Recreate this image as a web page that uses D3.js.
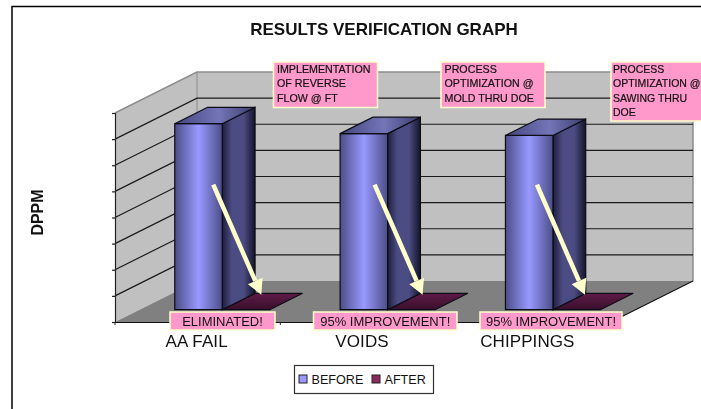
<!DOCTYPE html>
<html>
<head>
<meta charset="utf-8">
<script src="https://cdn.jsdelivr.net/npm/d3@7"></script>
<style>
    html, body { margin: 0; padding: 0; background: #fff; }
    svg { display: block; filter: blur(0.35px); }
    text { font-family: "Liberation Sans", Arial, sans-serif; fill: #111; }
</style>
</head>
<body>
<div class="container"></div>
<script>
const categories = ['AA FAIL', 'VOIDS', 'CHIPPINGS'];
const seriesNames = ['BEFORE', 'AFTER'];
const beforeValues = [7120, 6740, 6670];
const afterValues = [0, 0, 0];
const topNotes = [
    ['IMPLEMENTATION', 'OF REVERSE', 'FLOW @ FT'],
    ['PROCESS', 'OPTIMIZATION @', 'MOLD THRU DOE'],
    ['PROCESS', 'OPTIMIZATION @', 'SAWING THRU', 'DOE']
];
const bottomNotes = ['ELIMINATED!', '95% IMPROVEMENT!', '95% IMPROVEMENT!'];

const width = 701;
const height = 409;

// oblique box of the chart, front plane plus depth offset
const plotLeft = 115, plotRight = 611, plotBottom = 322, plotTop = 113;
const depthX = 82, depthY = -41;
const barNear = 0.3, barFar = 0.7;
const barWidth = 47.5;

const svg = d3.select('.container').append('svg').attr('width', width).attr('height', height);
const defs = svg.append('defs');

function gradient(id, stops, vertical)
{
    const g = defs.append('linearGradient').attr('id', id)
        .attr('x1', 0).attr('y1', 0).attr('x2', vertical ? 0 : 1).attr('y2', vertical ? 1 : 0);
    stops.forEach(s => g.append('stop').attr('offset', s[0]).attr('stop-color', s[1]));
}

gradient('beforeFront', [[0, '#4c4e88'], [0.5, '#9999ff'], [1, '#4c4e88']]);
gradient('beforeSide', [[0, '#1e1e3c'], [0.3, '#4c4c84'], [0.65, '#4c4c84'], [1, '#14142a']]);
gradient('beforeTop', [[0, '#45467e'], [0.55, '#7375b8'], [1, '#3c3d6c']]);
gradient('afterTop', [[0, '#5f1c48'], [1, '#3a0e2c']], true);

const x0 = d3.scaleBand().domain(categories).range([plotLeft, plotRight]);
const x1 = d3.scaleBand().domain(seriesNames)
    .range([x0.bandwidth() / 2 - barWidth, x0.bandwidth() / 2 + barWidth]);
const y = d3.scaleLinear().domain([0, 8000]).range([plotBottom, plotTop]);

const line = d3.line();

// x and y on the front plane, d is 0 at the front and 1 at the back wall
const project = (px, py, d) => [px + d * depthX, py + d * depthY];

// walls and floor
const wallColor = '#c0c0c0';
const wallEdge = '#8c8c8c';

svg.append('path')
    .attr('d', line([project(plotLeft, y(8000), 0), project(plotLeft, y(8000), 1), project(plotLeft, y(0), 1), project(plotLeft, y(0), 0)]) + 'Z')
    .attr('fill', wallColor);
svg.append('path')
    .attr('d', line([project(plotLeft, y(8000), 1), project(plotRight, y(8000), 1), project(plotRight, y(0), 1), project(plotLeft, y(0), 1)]) + 'Z')
    .attr('fill', wallColor);
svg.append('path')
    .attr('d', line([project(plotLeft, y(0), 0), project(plotLeft, y(0), 1), project(plotRight, y(0), 1), project(plotRight, y(0), 0)]))
    .attr('fill', '#808080');

// outer wall edges are grey
svg.append('path')
    .attr('d', line([project(plotLeft, y(8000), 0), project(plotLeft, y(8000), 1), project(plotRight, y(8000), 1), project(plotRight, y(0), 1)]))
    .attr('fill', 'none').attr('stroke', wallEdge).attr('stroke-width', 1.5);
svg.append('path')
    .attr('d', line([project(plotLeft, y(8000), 1), project(plotLeft, y(0), 1)]))
    .attr('fill', 'none').attr('stroke', wallEdge).attr('stroke-width', 1);

// gridlines on the left and back wall
svg.append('g').selectAll('path').data(y.ticks(8).filter(v => v > 0 && v < 8000)).enter().append('path')
    .attr('d', v => line([project(plotLeft, y(v), 0), project(plotLeft, y(v), 1), project(plotRight, y(v), 1)]))
    .attr('fill', 'none').attr('stroke', '#1a1a1a').attr('stroke-width', 1.2);

// right edge of the floor
svg.append('path')
    .attr('d', line([project(plotRight, y(0), 0), project(plotRight, y(0), 1)]))
    .attr('fill', 'none').attr('stroke', '#111').attr('stroke-width', 1.2);

const yAxis = d3.axisLeft(y).ticks(8).tickFormat('').tickSize(3);
svg.append('g').attr('transform', `translate(${plotLeft},0)`).call(yAxis)
    .selectAll('path,line').attr('stroke', '#222').attr('stroke-width', 1.2);

const xAxis = d3.axisBottom(x0).tickSize(0).tickPadding(13);
const xAxisG = svg.append('g').attr('transform', `translate(0,${plotBottom})`).call(xAxis);
xAxisG.select('.domain').attr('stroke', '#111').attr('stroke-width', 1.2);
xAxisG.selectAll('text').attr('font-size', 17).attr('dx', -1).attr('letter-spacing', 0.1)
    .style('font-family', '"Liberation Sans", Arial, sans-serif').attr('fill', '#222');
svg.append('g').selectAll('line').data(x0.domain().map(c => x0(c)).concat([plotRight])).enter().append('line')
    .attr('x1', d => d).attr('x2', d => d).attr('y1', plotBottom).attr('y2', plotBottom + 3)
    .attr('stroke', '#222');

// bars
function drawBar(g, px, value, front, side, topFill)
{
    const a = project(px, y(value), barNear);
    const b = project(px + barWidth, y(value), barNear);
    const c = project(px + barWidth, y(0), barNear);
    const d = project(px, y(0), barNear);
    const e = project(px, y(value), barFar);
    const f = project(px + barWidth, y(value), barFar);
    const h = project(px + barWidth, y(0), barFar);

    if (value > 0)
    {
        g.append('path').attr('d', line([b, f, h, c]) + 'Z').attr('fill', side).attr('stroke', '#0c0c14').attr('stroke-width', 1.2);
        g.append('path').attr('d', line([a, b, c, d]) + 'Z').attr('fill', front).attr('stroke', '#0c0c14').attr('stroke-width', 1.2);
    }
    g.append('path').attr('d', line([a, e, f, b]) + 'Z').attr('fill', topFill).attr('stroke', '#0c0c14').attr('stroke-width', 1.2);
}

categories.forEach((cat, i) =>
{
    const g = svg.append('g').attr('class', 'bars');
    drawBar(g, x0(cat) + x1('AFTER'), afterValues[i], '#5f1c48', '#3a0e2c', 'url(#afterTop)');
    drawBar(g, x0(cat) + x1('BEFORE'), beforeValues[i], 'url(#beforeFront)', 'url(#beforeSide)', 'url(#beforeTop)');
});

// arrows from the top of the bars down to the after bars, hand placed so they drift a bit
const arrowColor = '#ffffcc';
const arrowNudge = [0, -4, -7];
categories.forEach((cat, i) =>
{
    const base = project(x0(cat) + x1('AFTER'), y(0), barNear);
    const tip = [base[0] + 39 + arrowNudge[i], base[1] - 15];
    const start = [base[0] - 9 + arrowNudge[i], base[1] - 125];
    const ang = Math.atan2(tip[1] - start[1], tip[0] - start[0]);
    const headLen = 15, headHalf = 8;
    const neck = [tip[0] - headLen * Math.cos(ang), tip[1] - headLen * Math.sin(ang)];
    const nx = -Math.sin(ang) * headHalf, ny = Math.cos(ang) * headHalf;

    svg.append('path').attr('d', line([start, neck]))
        .attr('stroke', arrowColor).attr('stroke-width', 4.5).attr('fill', 'none');
    svg.append('path').attr('d', line([tip, [neck[0] + nx, neck[1] + ny], [neck[0] - nx, neck[1] - ny]]) + 'Z')
        .attr('fill', arrowColor);
});

// pink notes
const noteFill = '#ff99cc';
const noteEdge = '#ffffcc';
const topNoteBoxes = [[273.5, 62, 104, 45.5], [441, 62, 104, 45.5], [611, 62, 104, 59]];
const topNoteInset = [3.5, 3.5, 2];
const topNoteSize = [10.7, 10.7, 10.5];
const bottomNoteBoxes = [[170, 312, 105, 18], [313.5, 312, 143.5, 18], [480, 312, 142, 18]];

topNotes.forEach((lines, i) =>
{
    const b = topNoteBoxes[i];
    svg.append('rect').attr('x', b[0]).attr('y', b[1]).attr('width', b[2]).attr('height', b[3])
        .attr('fill', noteFill).attr('stroke', noteEdge).attr('stroke-width', 1.5);
    lines.forEach((t, k) =>
    {
        svg.append('text').attr('x', b[0] + topNoteInset[i]).attr('y', b[1] + 11 + k * 14.3)
            .attr('font-size', topNoteSize[i]).attr('stroke', '#111').attr('stroke-width', 0.2).text(t);
    });
});

bottomNotes.forEach((t, i) =>
{
    const b = bottomNoteBoxes[i];
    svg.append('rect').attr('x', b[0]).attr('y', b[1]).attr('width', b[2]).attr('height', b[3])
        .attr('fill', noteFill).attr('stroke', noteEdge).attr('stroke-width', 1.5);
    svg.append('text').attr('x', b[0] + b[2] / 2).attr('y', b[1] + 13.5)
        .attr('text-anchor', 'middle').attr('font-size', 13).text(t);
});

// frame of the pasted picture, only top and left show
svg.append('path').attr('d', line([[12, height], [12, 6.5], [width, 6.5]]))
    .attr('fill', 'none').attr('stroke', '#000').attr('stroke-width', 1.5);

svg.append('text').attr('x', 384).attr('y', 35).attr('text-anchor', 'middle')
    .attr('font-size', 17).attr('font-weight', 'bold').text('RESULTS VERIFICATION GRAPH');

svg.append('text').attr('transform', 'translate(43,212.5) rotate(-90)').attr('text-anchor', 'middle')
    .attr('font-size', 16).attr('font-weight', 'bold').text('DPPM');

// legend
const legend = svg.append('g');
legend.append('rect').attr('x', 294.5).attr('y', 365.5).attr('width', 139).attr('height', 28)
    .attr('fill', '#fff').attr('stroke', '#333').attr('stroke-width', 1.2);

const legendX = [299, 372];
const legendColor = ['#9999ff', '#8a2a5c'];
seriesNames.forEach((s, i) =>
{
    legend.append('rect').attr('x', legendX[i]).attr('y', 375).attr('width', 8).attr('height', 8)
        .attr('fill', legendColor[i]).attr('stroke', '#222');
    legend.append('text').attr('x', legendX[i] + 12.5).attr('y', 384)
        .attr('font-size', 12.6).text(s);
});
</script>
</body>
</html>
